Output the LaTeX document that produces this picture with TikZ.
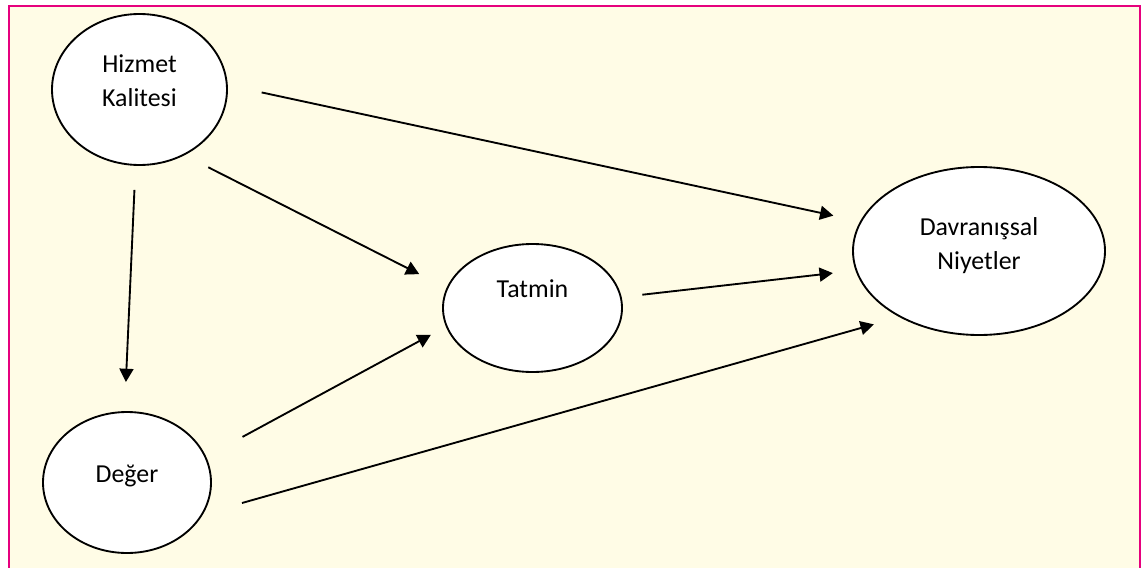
\documentclass[tikz,border=0pt]{standalone}
\usepackage{fontspec}
\setmainfont{Carlito}
\usetikzlibrary{shapes.geometric,arrows.meta}
\definecolor{paper}{RGB}{255,252,230}
\definecolor{frame}{RGB}{230,0,126}
\tikzset{
  oval/.style={ellipse, draw=black, fill=white, line width=1.4pt,
    inner sep=0pt, outer sep=0pt},
  lbl/.style={align=center, font=\fontsize{19.4}{25.5}\selectfont, inner sep=0pt},
  link/.style={draw=black, line width=1.4pt,
    -{Triangle[length=10pt,width=10.5pt]}},
}
\begin{document}
\begin{tikzpicture}[x=0.75pt,y=-0.75pt]
  \useasboundingbox (0,0) rectangle (1141,567);
  % cream page with a frame on three sides
  \fill[paper] (8.7,6) rectangle (1140.3,570);
  \draw[frame, line width=1.6pt] (8.7,570) -- (8.7,6) -- (1140.3,6) -- (1140.3,570);

  % constructs
  \node[oval, minimum width=131.25pt, minimum height=113.25pt,
        label={[lbl, yshift=6.4pt]center:Hizmet\\Kalitesi}] (hiz) at (139.5,89.5) {};
  \node[oval, minimum width=126pt, minimum height=105.75pt,
        label={[lbl, yshift=5.25pt]center:Değer}] (deg) at (127,482.5) {};
  \node[oval, minimum width=134.25pt, minimum height=96pt,
        label={[lbl, yshift=14.8pt]center:Tatmin}] (tat) at (532.5,308) {};
  \node[oval, minimum width=189pt, minimum height=126pt,
        label={[lbl, yshift=3.75pt]center:Davranışsal\\Niyetler}] (dav) at (979,251) {};

  % paths between constructs
  \draw[link, shorten <=26.7pt, shorten >=21.2pt] (hiz.3) -- (dav.166);
  \draw[link, shorten <=20.8pt, shorten >=23.6pt] (hiz.304.7) -- (tat.167.7);
  \draw[link, shorten <=18.8pt, shorten >=22.5pt] (hiz.267.5) -- (deg.92);
  \draw[link, shorten <=16.3pt, shorten >=17.8pt] (tat.7.5) -- (dav.189);
  \draw[link, shorten <=31.7pt, shorten >=13.5pt] (deg.18.9) -- (tat.192.2);
  \draw[link, shorten <=31.2pt, shorten >=20.9pt] (deg.337) -- (dav.220.7);
\end{tikzpicture}
\end{document}
